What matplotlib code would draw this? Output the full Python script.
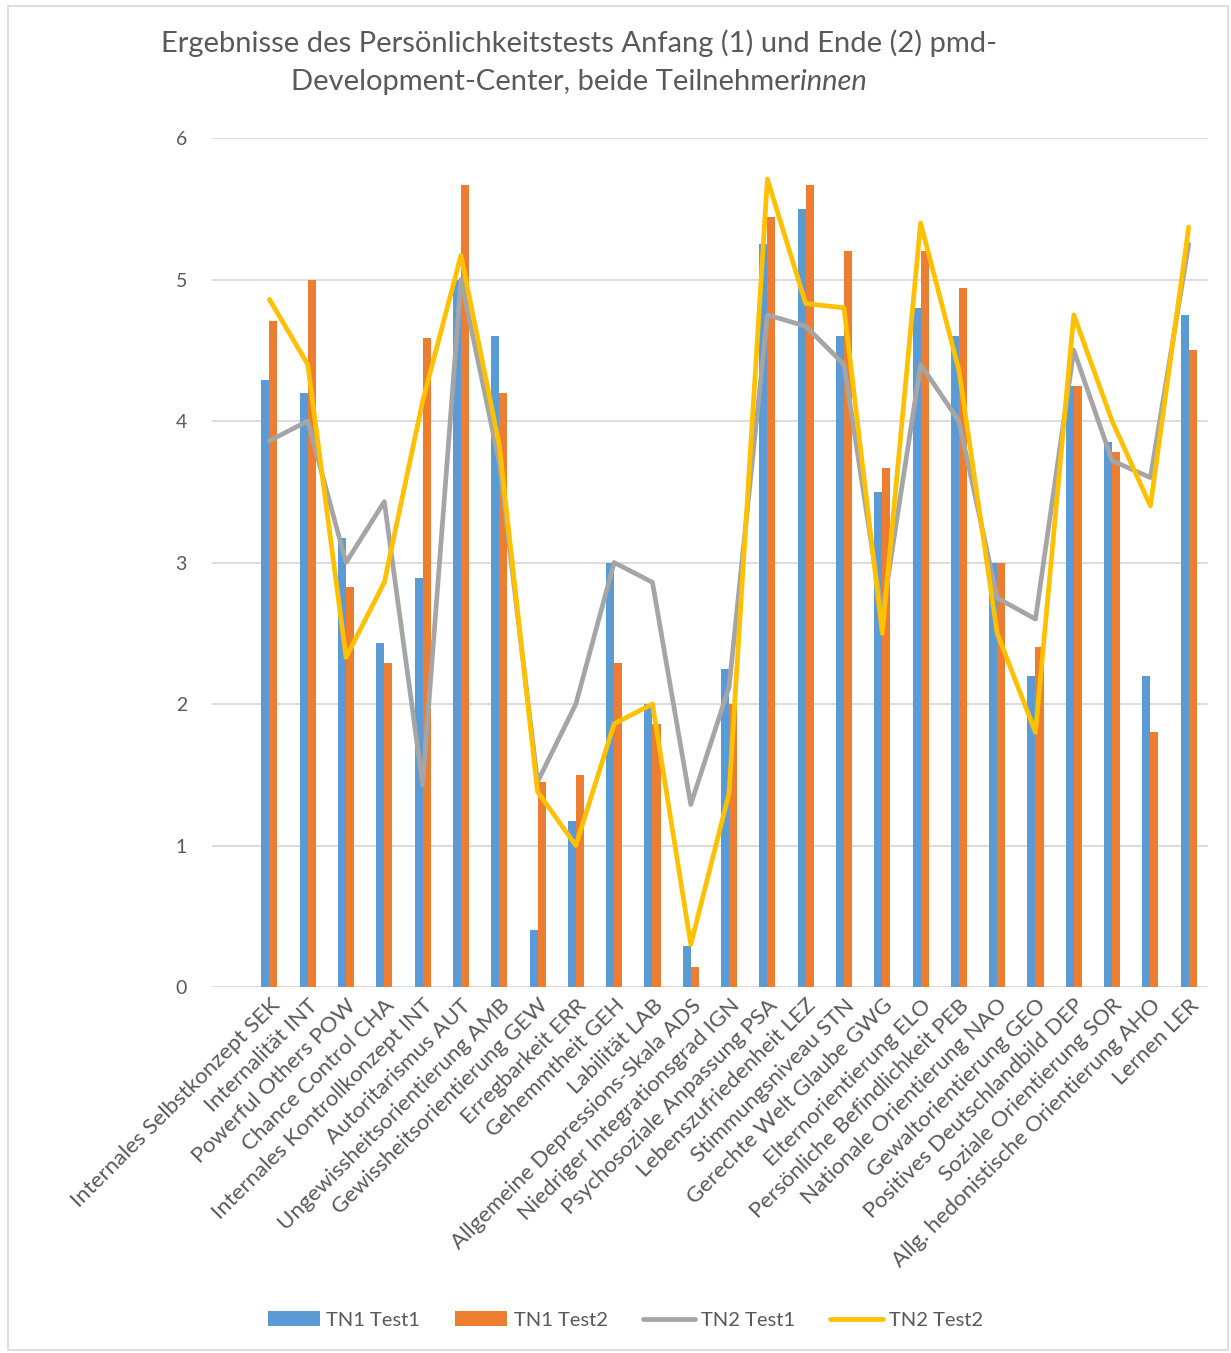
"""Persönlichkeitstest pmd-Development-Center: Anfang vs. Ende, beide Teilnehmerinnen"""

import numpy as np
import matplotlib.pyplot as plt
from matplotlib.patches import Rectangle

plt.rcParams["font.family"] = ["Lato", "DejaVu Sans"]

skalen = [
    "Internales Selbstkonzept SEK",
    "Internalität INT",
    "Powerful Others POW",
    "Chance Control CHA",
    "Internales Kontrollkonzept INT",
    "Autoritarismus AUT",
    "Ungewissheitsorientierung AMB",
    "Gewissheitsorientierung GEW",
    "Erregbarkeit ERR",
    "Gehemmtheit GEH",
    "Labilität LAB",
    "Allgemeine Depressions-Skala ADS",
    "Niedriger Integrationsgrad IGN",
    "Psychosoziale Anpassung PSA",
    "Lebenszufriedenheit LEZ",
    "Stimmungsniveau STN",
    "Gerechte Welt Glaube GWG",
    "Elternorientierung ELO",
    "Persönliche Befindlichkeit PEB",
    "Nationale Orientierung NAO",
    "Gewaltorientierung GEO",
    "Positives Deutschlandbild DEP",
    "Soziale Orientierung SOR",
    "Allg. hedonistische Orientierung AHO",
    "Lernen LER",
]

tn1_test1 = [4.29, 4.20, 3.17, 2.43, 2.89, 5.00, 4.60, 0.40, 1.17, 3.00, 2.00, 0.29, 2.25,
             5.25, 5.50, 4.60, 3.50, 4.80, 4.60, 3.00, 2.20, 4.25, 3.85, 2.20, 4.75]
tn1_test2 = [4.71, 5.00, 2.83, 2.29, 4.59, 5.67, 4.20, 1.45, 1.50, 2.29, 1.86, 0.14, 2.00,
             5.44, 5.67, 5.20, 3.67, 5.20, 4.94, 3.00, 2.40, 4.25, 3.78, 1.80, 4.50]
tn2_test1 = [3.86, 4.00, 3.00, 3.43, 1.43, 5.00, 3.71, 1.45, 2.00, 3.00, 2.86, 1.29, 2.12,
             4.75, 4.67, 4.40, 2.63, 4.40, 4.00, 2.75, 2.60, 4.50, 3.72, 3.60, 5.25]
tn2_test2 = [4.86, 4.40, 2.33, 2.86, 4.14, 5.17, 3.83, 1.38, 1.00, 1.86, 2.00, 0.30, 1.37,
             5.71, 4.83, 4.80, 2.50, 5.40, 4.36, 2.50, 1.80, 4.75, 4.00, 3.40, 5.37]

farben = {"TN1 Test1": "#5B9BD5", "TN1 Test2": "#ED7D31",
          "TN2 Test1": "#A5A5A5", "TN2 Test2": "#FFC000"}
text_grau = "#595959"

fig = plt.figure(figsize=(12.31, 13.53), dpi=100)
ax = fig.add_axes([0.1722, 0.2705, 0.809, 0.6275])

x = np.arange(len(skalen))
w = 0.21
b1 = ax.bar(x - w / 2, tn1_test1, w, color=farben["TN1 Test1"], label="TN1 Test1", zorder=2)
b2 = ax.bar(x + w / 2, tn1_test2, w, color=farben["TN1 Test2"], label="TN1 Test2", zorder=2)
l1, = ax.plot(x, tn2_test1, color=farben["TN2 Test1"], lw=3.4, label="TN2 Test1",
              solid_joinstyle="round", solid_capstyle="round", zorder=3)
l2, = ax.plot(x, tn2_test2, color=farben["TN2 Test2"], lw=3.4, label="TN2 Test2",
              solid_joinstyle="round", solid_capstyle="round", zorder=4)

# leere Kategorie links, wie im Excel-Diagramm
ax.set_xlim(-1.5, len(skalen) - 0.5)
ax.set_ylim(0, 6)
ax.set_yticks(range(7))
ax.yaxis.grid(True, color="#D9D9D9", lw=1.3, zorder=0)
ax.set_axisbelow(True)
for s in ax.spines.values():
    s.set_visible(False)
ax.tick_params(axis="both", length=0, colors=text_grau, labelsize=14)
ax.tick_params(axis="y", pad=18)
ax.tick_params(axis="x", pad=6)
ax.set_xticks(x)
ax.set_xticklabels(skalen, rotation=45, ha="right", va="top",
                   rotation_mode="anchor", fontsize=16, color=text_grau)

# Titel, "innen" kursiv
t1 = fig.text(0.47, 1 - 52 / 1353, "Ergebnisse des Persönlichkeitstests Anfang (1) und Ende (2) pmd-",
              ha="center", va="baseline", fontsize=21, color=text_grau)
t2 = fig.text(0.443, 1 - 90 / 1353, "Development-Center, beide Teilnehmer",
              ha="center", va="baseline", fontsize=21, color=text_grau)
ax.annotate("innen", xy=(1, 0), xycoords=t2, va="bottom", ha="left",
            fontsize=21, color=text_grau, style="italic")

ax.legend([b1, b2, l1, l2], ["TN1 Test1", "TN1 Test2", "TN2 Test1", "TN2 Test2"],
          loc="center", bbox_to_anchor=(0.415, -(1320 - 987) / 849), ncol=4,
          frameon=False, fontsize=14.5, labelcolor=text_grau,
          handlelength=2.6, handleheight=0.75, handletextpad=0.3, columnspacing=1.75)

fig.patches.append(Rectangle((8 / 1231, 3 / 1353), 1 - 11 / 1231, 1 - 9 / 1353,
                             transform=fig.transFigure, fill=False,
                             edgecolor="#D9D9D9", lw=1.2))

fig.savefig("out.png", dpi=100)
